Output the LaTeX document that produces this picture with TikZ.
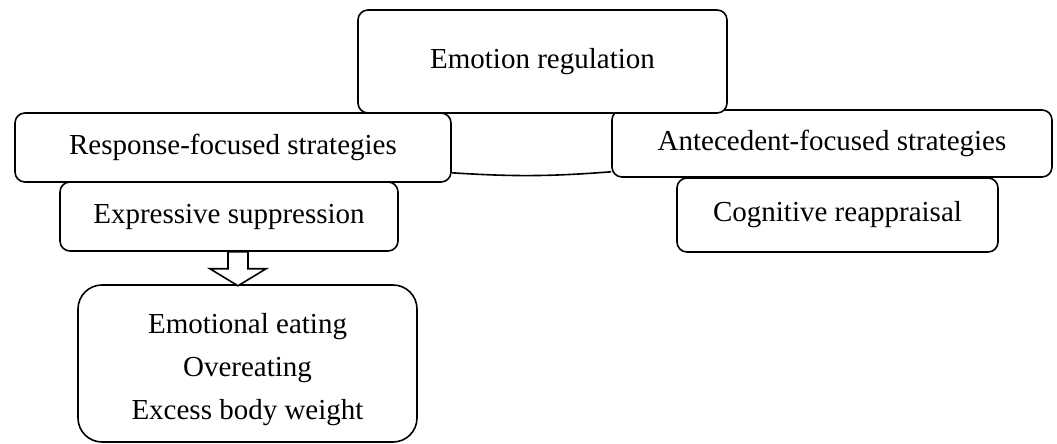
\documentclass[tikz,border=0pt]{standalone}
\usepackage{fontspec}
\setmainfont{Liberation Serif}
\usetikzlibrary{positioning, calc}
\tikzset{
    % boxes - rounded corners, white fill so overlaps hide lines
    strategy/.style={
        rectangle,
        rounded corners=5pt,
        draw=black,
        fill=white,
        line width=0.8pt,
        align=center,
        font=\fontsize{14.5}{17}\selectfont
    },
    outcome/.style={
        strategy,
        rounded corners=12pt,
        font=\fontsize{14.5}{21.5}\selectfont
    },
    % connector
    link/.style={
        line width=0.8pt,
        draw=black
    },
    blockarrow/.style={
        line width=0.8pt,
        draw=black,
        fill=white
    }
}
\begin{document}
\begin{tikzpicture}[x=0.5pt, y=0.5pt]
    \useasboundingbox (0,0) rectangle (1057,-444);

    \node[strategy, minimum width=218pt, minimum height=34.5pt] (response) at (233,-147.5) {Response-focused strategies};
    \node[strategy, minimum width=220pt, minimum height=33.5pt] (antecedent) at (832,-143.5) {Antecedent-focused strategies};
    \node[strategy, minimum width=184.5pt, minimum height=51.5pt] (emotion) at (542.5,-61.5) {Emotion regulation};

    \node[strategy, minimum width=169pt, minimum height=34.5pt] (suppression) at (229,-216.5) {Expressive suppression};
    \node[strategy, minimum width=160.5pt, minimum height=37pt] (reappraisal) at (837.5,-215) {Cognitive reappraisal};

    \node[outcome, minimum width=169.5pt, minimum height=78.5pt] (eating) at (247.5,-363.5) {};
    \node[font=\fontsize{14.5}{21.5}\selectfont, align=center] (eatinglist) at (247.5,-370)
        {Emotional eating\\Overeating\\Excess body weight};

    \draw[link] ($(response.south east)+(0,10)$) to[bend right=4] ($(antecedent.south west)+(0,6)$);

    % hollow arrow from suppression to eating
    \coordinate (arrtop) at (238,0 |- suppression.south);
    \draw[blockarrow] (arrtop) ++(-10,0) -- ++(0,-17) -- ++(-18,0) -- ++(28,-17)
        -- ++(28,17) -- ++(-18,0) -- ++(0,17) -- cycle;
\end{tikzpicture}
\end{document}
